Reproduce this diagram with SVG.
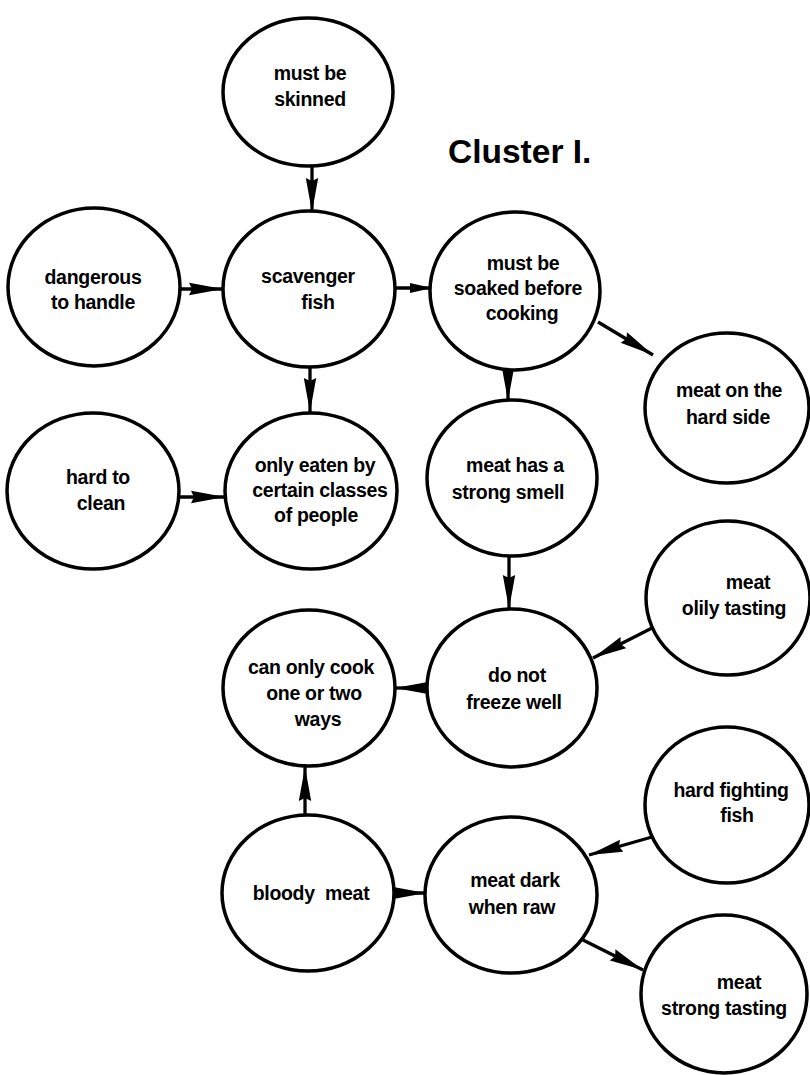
<svg xmlns="http://www.w3.org/2000/svg" width="810" height="1075" viewBox="0 0 810 1075">
<defs>
<style>
.n ellipse{fill:#fff;stroke:#000;stroke-width:3.5}
text{font-family:"Liberation Sans",Arial,Helvetica,sans-serif;font-weight:bold;font-size:19.5px;fill:#000;text-anchor:middle;letter-spacing:-0.3px}
.title{font-size:33.5px;text-anchor:start;letter-spacing:0}
#connectors line{stroke:#000;stroke-width:3.3;fill:none}
</style>
<marker id="ah" markerUnits="userSpaceOnUse" markerWidth="36" markerHeight="14" refX="34" refY="7" orient="auto">
<path d="M0,0.8 L34,7 L0,13.2 L3,7 Z" fill="#000"/>
</marker>
</defs>
<rect width="810" height="1075" fill="#fff"/>
<text class="title" x="448" y="163">Cluster I.</text>
<g id="connectors">
<line x1="312" y1="166" x2="312" y2="212" marker-end="url(#ah)"/>
<line x1="180" y1="289" x2="223" y2="289" marker-end="url(#ah)"/>
<line x1="395" y1="288" x2="445" y2="288"/>
<path d="M410,283 L432,288 L410,293 Z" fill="#000"/>
<line x1="310" y1="367" x2="310" y2="412" marker-end="url(#ah)"/>
<line x1="178" y1="497" x2="225" y2="497" marker-end="url(#ah)"/>
<line x1="598" y1="322" x2="653" y2="355" marker-end="url(#ah)"/>
<line x1="508" y1="369" x2="508" y2="401" marker-end="url(#ah)"/>
<line x1="509" y1="557" x2="509" y2="609" marker-end="url(#ah)"/>
<line x1="652" y1="628" x2="593" y2="658" marker-end="url(#ah)"/>
<line x1="427" y1="688" x2="395" y2="688" marker-end="url(#ah)"/>
<line x1="305" y1="815" x2="305" y2="767" marker-end="url(#ah)"/>
<line x1="393" y1="893" x2="426" y2="893" marker-end="url(#ah)"/>
<line x1="652" y1="837" x2="589" y2="855" marker-end="url(#ah)"/>
<line x1="583" y1="940" x2="643" y2="970" marker-end="url(#ah)"/>
</g>
<g id="n-skinned" class="n"><ellipse cx="308" cy="92" rx="85" ry="74"/><text x="310" y="80">must be</text><text x="310" y="106">skinned</text></g>
<g id="n-dangerous" class="n"><ellipse cx="94" cy="287" rx="86" ry="79"/><text x="93" y="284">dangerous</text><text x="93" y="309">to handle</text></g>
<g id="n-scavenger" class="n"><ellipse cx="309" cy="289" rx="86" ry="78"/><text x="308" y="283">scavenger</text><text x="318" y="309">fish</text></g>
<g id="n-soaked" class="n"><ellipse cx="515" cy="291" rx="85" ry="79"/><text x="523" y="270">must be</text><text x="518" y="295">soaked before</text><text x="522" y="320">cooking</text></g>
<g id="n-hardside" class="n"><ellipse cx="727" cy="408" rx="82" ry="75"/><text x="729" y="397">meat on the</text><text x="728" y="424">hard side</text></g>
<g id="n-clean" class="n"><ellipse cx="93" cy="491" rx="86" ry="78"/><text x="98" y="484">hard to</text><text x="101" y="510">clean</text></g>
<g id="n-eaten" class="n"><ellipse cx="311" cy="491" rx="86" ry="78"/><text x="315" y="472">only eaten by</text><text x="320" y="497">certain classes</text><text x="316" y="522">of people</text></g>
<g id="n-smell" class="n"><ellipse cx="512" cy="478" rx="85" ry="78"/><text x="515" y="472">meat has a</text><text x="508" y="499">strong smell</text></g>
<g id="n-olily" class="n"><ellipse cx="728" cy="598" rx="82" ry="77"/><text x="748" y="589">meat</text><text x="734" y="615">olily tasting</text></g>
<g id="n-freeze" class="n"><ellipse cx="512" cy="688" rx="85" ry="79"/><text x="517" y="682">do not</text><text x="514" y="709">freeze well</text></g>
<g id="n-cook" class="n"><ellipse cx="309" cy="688" rx="86" ry="78"/><text x="311" y="674">can only cook</text><text x="314" y="700">one or two</text><text x="318" y="726">ways</text></g>
<g id="n-fighting" class="n"><ellipse cx="727" cy="805" rx="82" ry="78"/><text x="731" y="797">hard fighting</text><text x="737" y="822">fish</text></g>
<g id="n-bloody" class="n"><ellipse cx="308" cy="893" rx="86" ry="78"/><text x="311" y="900" xml:space="preserve">bloody  meat</text></g>
<g id="n-dark" class="n"><ellipse cx="511" cy="895" rx="86" ry="78"/><text x="515" y="887">meat dark</text><text x="512" y="914">when raw</text></g>
<g id="n-strong" class="n"><ellipse cx="724" cy="994" rx="83" ry="79"/><text x="739" y="989">meat</text><text x="724" y="1015">strong tasting</text></g>
</svg>
